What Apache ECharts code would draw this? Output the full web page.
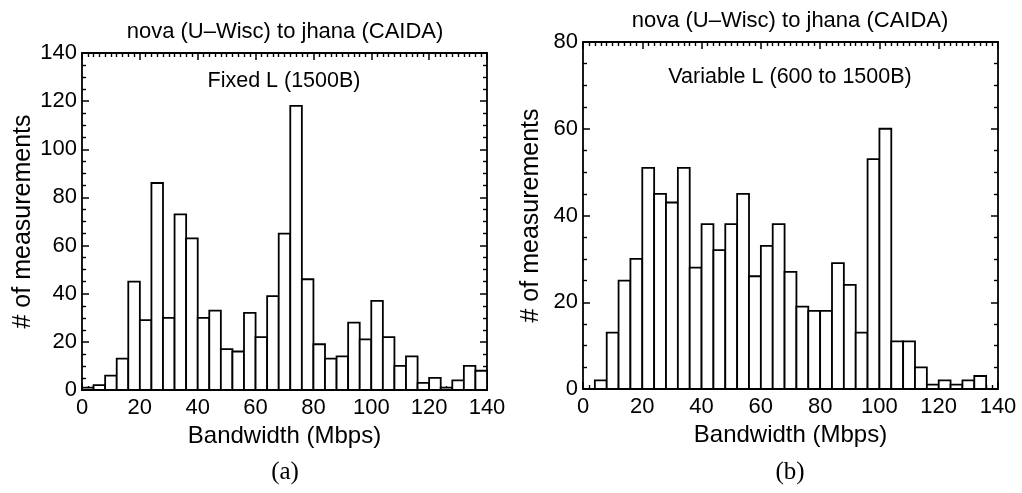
<!DOCTYPE html>
<html>
<head>
<meta charset="utf-8">
<script src="https://cdn.jsdelivr.net/npm/echarts@6/dist/echarts.min.js"></script>
<style>
html,body{margin:0;padding:0;background:#fff;}
#chart{width:1022px;height:493px;}
</style>
</head>
<body>
<div id="chart"></div>
<script>
// Histogram bins (Mbps), width 4
var binWidth = 4;
var binStarts = [0,4,8,12,16,20,24,28,32,36,40,44,48,52,56,60,64,68,72,76,80,84,88,92,96,100,104,108,112,116,120,124,128,132,136];
// (a) Fixed L (1500B)
var fixedCounts = [1,2,6,13,45,29,86,30,73,63,30,33,17,16,32,22,39,65,118,46,19,13,14,28,21,37,22,10,14,3,5,1,4,10,8];
// (b) Variable L (600 to 1500B)
var variableCounts = [0,2,13,25,30,51,45,43,51,28,38,32,38,45,26,33,38,27,19,18,18,29,24,13,53,60,11,11,5,1,2,1,2,3,0];

var xTicks = [0,20,40,60,80,100,120,140];
var yTicksA = [0,20,40,60,80,100,120,140];
var yTicksB = [0,20,40,60,80];

var titleText = 'nova (U\u2013Wisc) to jhana (CAIDA)';
var annoA = 'Fixed L (1500B)';
var annoB = 'Variable L (600 to 1500B)';
var xName = 'Bandwidth (Mbps)';
var yName = '# of measurements';

function histData(counts){
  return binStarts.map(function(s,i){ return [s, s+binWidth, counts[i]]; });
}

function renderHist(params, api){
  var x0 = api.value(0), x1 = api.value(1), y = api.value(2);
  if (y <= 0) return null;
  var p0 = api.coord([x0, y]);
  var p1 = api.coord([x1, 0]);
  return {
    type: 'rect',
    shape: {x: p0[0], y: p0[1], width: p1[0]-p0[0], height: p1[1]-p0[1]},
    style: {fill: '#fff', stroke: '#000', lineWidth: 1.8}
  };
}

var FONT = '"Liberation Sans", Arial, Helvetica, sans-serif';

function xAxisDef(gi, pos, show){
  return {
    type: 'value', gridIndex: gi, position: pos, min: 0, max: 140, interval: 20,
    name: show ? xName : '', nameLocation: 'middle', nameGap: 33,
    nameTextStyle: {fontFamily: FONT, fontSize: 24, color: '#000'},
    axisLine: {show: true, onZero: false, lineStyle: {color: '#000', width: 1.8}},
    axisTick: {show: true, inside: true, length: 7, lineStyle: {color: '#000', width: 1.5}},
    minorTick: {show: true, splitNumber: 10, length: 4, lineStyle: {color: '#000', width: 1.4}},
    axisLabel: {show: show, margin: 7, fontFamily: FONT, fontSize: 22, color: '#000',
      formatter: function(v){ return xTicks.indexOf(v) >= 0 ? String(v) : ''; }},
    splitLine: {show: false}
  };
}
function yAxisDef(gi, pos, show, maxV, ticks, gap){
  return {
    type: 'value', gridIndex: gi, position: pos, min: 0, max: maxV, interval: 20,
    name: show ? yName : '', nameLocation: 'middle', nameGap: gap, nameRotate: 90,
    nameTextStyle: {fontFamily: FONT, fontSize: 25, color: '#000'},
    axisLine: {show: true, onZero: false, lineStyle: {color: '#000', width: 1.8}},
    axisTick: {show: true, inside: true, length: 7, lineStyle: {color: '#000', width: 1.5}},
    minorTick: {show: true, splitNumber: 4, length: 4, lineStyle: {color: '#000', width: 1.4}},
    axisLabel: {show: show, margin: 5, fontFamily: FONT, fontSize: 22, color: '#000',
      formatter: function(v){ return ticks.indexOf(v) >= 0 ? String(v) : ''; }},
    splitLine: {show: false}
  };
}

var chart = echarts.init(document.getElementById('chart'), null, {renderer: 'canvas'});
chart.setOption({
  backgroundColor: '#fff',
  animation: false,
  grid: [
    {left: 82, top: 53, width: 405, height: 337},
    {left: 583, top: 42, width: 415, height: 347}
  ],
  xAxis: [
    xAxisDef(0, 'bottom', true), xAxisDef(0, 'top', false),
    xAxisDef(1, 'bottom', true), xAxisDef(1, 'top', false)
  ],
  yAxis: [
    yAxisDef(0, 'left', true, 140, yTicksA, 46), yAxisDef(0, 'right', false, 140, yTicksA, 0),
    yAxisDef(1, 'left', true, 80, yTicksB, 39), yAxisDef(1, 'right', false, 80, yTicksB, 0)
  ],
  series: [
    {type: 'custom', name: 'Fixed L', xAxisIndex: 0, yAxisIndex: 0, renderItem: renderHist,
     encode: {x: [0,1], y: 2}, data: histData(fixedCounts), clip: false},
    {type: 'custom', name: 'Variable L', xAxisIndex: 2, yAxisIndex: 2, renderItem: renderHist,
     encode: {x: [0,1], y: 2}, data: histData(variableCounts), clip: false}
  ],
  graphic: [
    {type: 'text', x: 285, y: 32, style: {text: titleText, font: '22px ' + FONT, fill: '#000', textAlign: 'center', textVerticalAlign: 'middle'}},
    {type: 'text', x: 790, y: 21, style: {text: titleText, font: '22px ' + FONT, fill: '#000', textAlign: 'center', textVerticalAlign: 'middle'}},
    {type: 'text', x: 284, y: 81, style: {text: annoA, font: '21.5px ' + FONT, fill: '#000', textAlign: 'center', textVerticalAlign: 'middle'}},
    {type: 'text', x: 790, y: 77, style: {text: annoB, font: '21.5px ' + FONT, fill: '#000', textAlign: 'center', textVerticalAlign: 'middle'}},
    {type: 'text', x: 285, y: 472, style: {text: '(a)', font: '25px "Liberation Serif", "Times New Roman", serif', fill: '#000', textAlign: 'center', textVerticalAlign: 'middle'}},
    {type: 'text', x: 790, y: 472, style: {text: '(b)', font: '25px "Liberation Serif", "Times New Roman", serif', fill: '#000', textAlign: 'center', textVerticalAlign: 'middle'}}
  ]
});
</script>
</body>
</html>
